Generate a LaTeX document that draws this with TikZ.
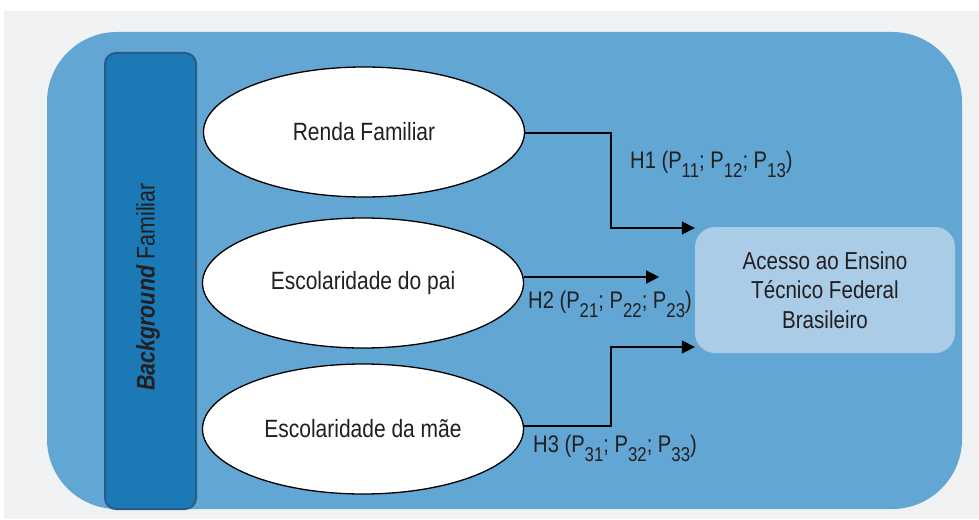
\documentclass[tikz,border=0pt]{standalone}
\usepackage{fontspec}
\setmainfont[FakeStretch=0.84]{Liberation Sans}
\usetikzlibrary{shapes.geometric,arrows.meta,calc}
\definecolor{pagegray}{HTML}{F1F2F4}
\definecolor{mainblue}{HTML}{62A6D3}
\definecolor{barblue}{HTML}{1B79B5}
\definecolor{barborder}{HTML}{2A5A88}
\definecolor{targetblue}{HTML}{AACCE6}
\definecolor{txt}{HTML}{231F20}
\newcommand\Psb[1]{P\raisebox{-9pt}{\fontsize{20}{20}\selectfont #1}}
\tikzset{
  oval/.style={ellipse, draw=black, line width=1.3pt, fill=white, minimum width=321pt, minimum height=130pt, inner sep=0pt, text=txt, font=\fontsize{25}{29}\selectfont},
  arr/.style={draw=black, line width=1.6pt, -{Triangle[length=13pt,width=13pt]}},
  lab/.style={anchor=base west, inner sep=0pt, text=txt, font=\fontsize{24}{29}\selectfont},
}
\begin{document}
\begin{tikzpicture}[x=1pt,y=-1pt]
\useasboundingbox (0,0) rectangle (979,519);
\fill[white] (0,0) rectangle (979,519);
\fill[pagegray] (4,11) rectangle (979,519);
\fill[mainblue, rounded corners=70pt] (47,32) rectangle (962,509);
\draw[barborder, fill=barblue, line width=2pt, rounded corners=11pt] (105,53) rectangle (196,509);
\node[rotate=90, text=txt, inner sep=0pt] (bf) at (148,287) {\fontsize{25.5}{30}\selectfont\textbf{\textit{Background}} Familiar};
\node[oval] (e1) at (364,132) {Renda Familiar};
\node[oval] (e2) at (363,283) {Escolaridade do pai};
\node[oval] (e3) at (363,429) {Escolaridade da mãe};
\node[fill=targetblue, rounded corners=20pt, minimum width=260pt, minimum height=126pt, inner sep=0pt, text=txt, align=center, font=\fontsize{24.5}{29.5}\selectfont] (t) at (825,290) {Acesso ao Ensino\\Técnico Federal\\Brasileiro};
\coordinate (h1in) at ([yshift=62pt]t.west);
\coordinate (h3in) at ([yshift=-57pt]t.west);
\coordinate (h2end) at ($([yshift=6pt]e2.east)+(135,0)$);
\draw[arr] ([yshift=-1pt]e1.east) -- ++(86,0) |- (h1in);
\draw[arr] ([yshift=6pt]e2.east) -- (h2end);
\draw[arr] ([yshift=3pt]e3.east) -- ++(87,0) |- (h3in);
\node[lab] (l1) at (630,168) {H1 (\Psb{11}; \Psb{12}; \Psb{13})};
\node[lab] (l2) at (528,308) {H2 (\Psb{21}; \Psb{22}; \Psb{23})};
\node[lab] (l3) at (533,452) {H3 (\Psb{31}; \Psb{32}; \Psb{33})};
\end{tikzpicture}
\end{document}
